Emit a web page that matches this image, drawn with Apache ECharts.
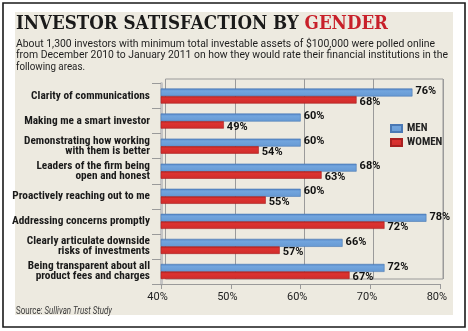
<!DOCTYPE html>
<html><head><meta charset="utf-8">
<script src="https://cdn.jsdelivr.net/npm/echarts@6/dist/echarts.min.js"></script>
<style>html,body{margin:0;padding:0;background:#fff}#c{width:468px;height:331px}</style>
</head><body><div id="c"></div>
<script>
var categories = ["Clarity of communications","Making me a smart investor","Demonstrating how working\nwith them is better","Leaders of the firm being\nopen and honest","Proactively reaching out to me","Addressing concerns promptly","Clearly articulate downside\nrisks of investments","Being transparent about all\nproduct fees and charges"];
var menValues = [76,60,60,68,60,78,66,72];
var womenValues = [68,49,54,63,55,72,57,67];
var seriesNames = ["MEN","WOMEN"];
var titleParts = ["INVESTOR SATISFACTION BY ", "GENDER"];
var subtitleLines = ["About 1,300 investors with minimum total investable assets of $100,000 were polled online","from December 2010 to January 2011 on how they would rate their financial institutions in the","following areas."];
var sourceParts = ["Source: ", "Sullivan Trust Study"];

var ctx = document.createElement('canvas').getContext('2d');
function mw(text, font){ ctx.font = font; return ctx.measureText(text).width; }

var TITLE_FONT = 'bold 19px "DejaVu Serif", serif';
var SUB_FONT = '11px Roboto, sans-serif';
var SRC_FONT = '10px Roboto, sans-serif';
var SRC_FONT_I = 'italic 10px Roboto, sans-serif';

var tw1 = mw(titleParts[0], TITLE_FONT), tw2 = mw(titleParts[1], TITLE_FONT);
var ts = 372 / (tw1 + tw2);
var subWidths = [419, 432, 69];
var sw1 = mw(sourceParts[0], SRC_FONT), sw2 = mw(sourceParts[1], SRC_FONT_I);
var srs = 96 / (sw1 + sw2);

var graphics = [
  {type:'rect',shape:{x:3,y:3,width:462,height:324},style:{fill:'#ffffff',stroke:'#1a1a1a',lineWidth:1.6},z:-10},
  {type:'rect',shape:{x:15,y:12,width:438,height:303},style:{fill:'#edeae0'},z:-9},
  {type:'text',x:16,y:24.5,scaleX:ts,style:{text:titleParts[0],font:TITLE_FONT,fill:'#1a1a1a',verticalAlign:'middle'},z:5},
  {type:'text',x:16+tw1*ts,y:24.5,scaleX:ts,style:{text:titleParts[1],font:TITLE_FONT,fill:'#c8202a',verticalAlign:'middle'},z:5},
  {type:'text',x:16+0,y:311,scaleX:srs,style:{text:sourceParts[0],font:SRC_FONT,fill:'#3a3a3a',verticalAlign:'middle'},z:5},
  {type:'text',x:16+sw1*srs,y:311,scaleX:srs,style:{text:sourceParts[1],font:SRC_FONT_I,fill:'#3a3a3a',verticalAlign:'middle'},z:5}
];
subtitleLines.forEach(function(line, i){
  var s = subWidths[i] / mw(line, SUB_FONT);
  graphics.push({type:'text',x:16,y:43.8+i*11.7,scaleX:s,style:{text:line,font:SUB_FONT,fill:'#1e1e1e',verticalAlign:'middle'},z:5});
});

function grad(top, mid, bot){
  return new echarts.graphic.LinearGradient(0,0,0,1,[{offset:0,color:top},{offset:0.3,color:mid},{offset:1,color:bot}]);
}
var LABEL_FONT = 'Roboto, sans-serif';
var COND_FONT = '"Roboto Condensed", Roboto, sans-serif';
var chart = echarts.init(document.getElementById('c'), null, {renderer:'canvas'});
chart.setOption({
  animation:false,
  backgroundColor:'#ffffff',
  graphic:graphics,
  legend:{
    orient:'vertical',left:385,top:118,itemWidth:11,itemHeight:7,itemGap:3,
    icon:'rect',
    textStyle:{fontFamily:COND_FONT,fontWeight:'bold',fontSize:11,color:'#222'},
    data:seriesNames
  },
  grid:[
    {left:161,right:27.6,top:83.5,bottom:47,outerBoundsMode:'none',containLabel:false},
    {left:165.5,right:25,top:79,bottom:52,outerBoundsMode:'none',containLabel:false,show:true,borderColor:'#9a9a9a',borderWidth:1,backgroundColor:'transparent'}
  ],
  xAxis:[
    {type:'value',gridIndex:0,min:40,max:80,interval:10,
     axisLine:{show:true,lineStyle:{color:'#9a9a9a'}},
     axisTick:{show:true,length:5,lineStyle:{color:'#9a9a9a'}},
     axisLabel:{formatter:'{value}%',fontFamily:LABEL_FONT,fontSize:11,color:'#222',margin:8,padding:[0,7,0,0]},
     splitLine:{show:false}},
    {type:'value',gridIndex:1,min:40,max:80,interval:10,
     axisLine:{show:false},axisTick:{show:false},axisLabel:{show:false},
     splitLine:{show:true,lineStyle:{color:'#9a9a9a'}}}
  ],
  yAxis:[
    {type:'category',gridIndex:0,inverse:true,data:categories,
     axisLine:{show:true,lineStyle:{color:'#c4c4c4',width:3}},
     axisTick:{show:true,length:9,lineStyle:{color:'#9a9a9a'}},
     axisLabel:{fontFamily:COND_FONT,fontWeight:'bold',fontSize:11.3,color:'#1a1a1a',margin:11,lineHeight:10,align:'right'}},
    {type:'category',gridIndex:1,data:categories,show:false}
  ],
  series:[
    {name:seriesNames[0],type:'bar',xAxisIndex:0,yAxisIndex:0,data:menValues,barWidth:8,barGap:'-5%',
     itemStyle:{color:grad('#4f80c2','#72a5de','#6699d3'),borderColor:'#4a78b4',borderWidth:0.6},
     label:{show:true,position:'right',distance:3,offset:[0,-1],formatter:'{c}%',fontFamily:LABEL_FONT,fontWeight:'bold',fontSize:11,color:'#111'}},
    {name:seriesNames[1],type:'bar',xAxisIndex:0,yAxisIndex:0,data:womenValues,barWidth:7.5,
     itemStyle:{color:grad('#b82221','#dc3331','#cf2b2a'),borderColor:'#a82020',borderWidth:0.6},
     label:{show:true,position:'right',distance:3,offset:[0,2],formatter:'{c}%',fontFamily:LABEL_FONT,fontWeight:'bold',fontSize:11,color:'#111'}}
  ],
  color:['#6fa2dc','#d9302f']
});
</script></body></html>
